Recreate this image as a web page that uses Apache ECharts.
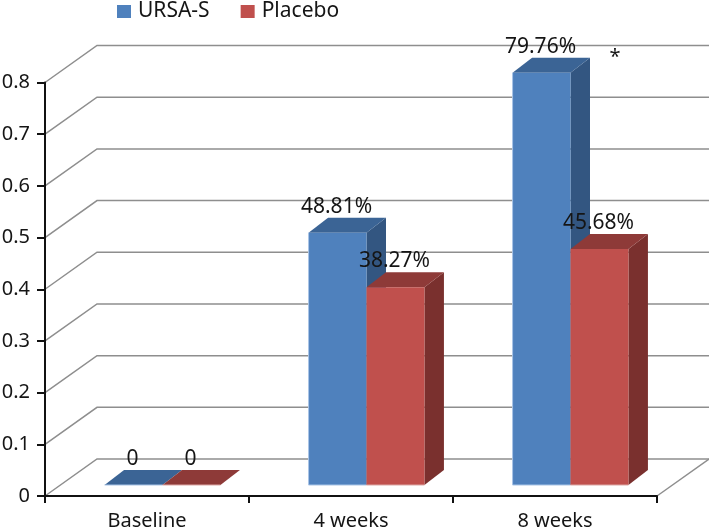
<!DOCTYPE html>
<html>
<head>
<meta charset="utf-8">
<style>html,body{margin:0;padding:0;background:#fff}#c{width:709px;height:528px}</style>
<script src="https://cdn.jsdelivr.net/npm/echarts@6/dist/echarts.min.js"></script>
</head>
<body>
<div id="c"></div>
<script>
const categories = ['Baseline', '4 weeks', '8 weeks'];
const ursaValues = [0, 0.4881, 0.7976];
const placeboValues = [0, 0.3827, 0.4568];
const ursaLabels = ['0', '48.81%', '79.76%'];
const placeboLabels = ['0', '38.27%', '45.68%'];
const yTicks = [0, 0.1, 0.2, 0.3, 0.4, 0.5, 0.6, 0.7, 0.8];
const significance = [['8 weeks', 0.7976, '*']];

const FONT = '"Noto Sans", sans-serif';
const TEXT = '#151515';
const WALL = { dx: 52, dy: -37 };
const BAR = { widthFrac: 0.284, frontDx: 15.5, frontDy: -11, depthDx: 19.5, depthDy: -15 };
const BLUE = { front: '#4F81BD', top: '#3B6495', side: '#335681', edge: '#A9C4E6' };
const RED = { front: '#C0504D', top: '#8E3A38', side: '#7A302E', edge: '#DDA8A6' };

const chart = echarts.init(document.getElementById('c'));

function wallItem(params, api) {
  const cs = params.coordSys;
  const y = api.coord([0, api.value(1)])[1];
  const x0 = cs.x, x1 = cs.x + cs.width;
  const lineStyle = { stroke: '#8E8E8E', lineWidth: 1.5, fill: null };
  const children = [{
    type: 'polyline',
    shape: { points: [[x0, y], [x0 + WALL.dx, y + WALL.dy], [x1 + WALL.dx, y + WALL.dy]] },
    style: lineStyle
  }];
  if (api.value(1) === 0) {
    children.push({
      type: 'line',
      shape: { x1: x1, y1: y, x2: x1 + WALL.dx, y2: y + WALL.dy },
      style: lineStyle
    });
  }
  return { type: 'group', children };
}

function barItem(seriesPos, pal) {
  return function (params, api) {
    const catIdx = api.value(0);
    const p = api.coord([catIdx, api.value(1)]);
    const base = api.coord([catIdx, 0]);
    const w = api.size([1, 0])[0] * BAR.widthFrac;
    const xL = base[0] + BAR.frontDx + (seriesPos === 0 ? -w : 0);
    const xR = xL + w;
    const yB = base[1] + BAR.frontDy;
    const yT = p[1] + BAR.frontDy;
    const dx = BAR.depthDx, dy = BAR.depthDy;
    const children = [
      { type: 'polygon', shape: { points: [[xR, yB], [xR + dx, yB + dy], [xR + dx, yT + dy], [xR, yT]] },
        style: { fill: pal.side } },
      { type: 'polygon', shape: { points: [[xL, yT], [xR, yT], [xR + dx, yT + dy], [xL + dx, yT + dy]] },
        style: { fill: pal.top } },
      { type: 'rect', shape: { x: xL, y: yT, width: w, height: yB - yT },
        style: { fill: pal.front } },
      { type: 'line', shape: { x1: xL, y1: yB, x2: xR, y2: yB },
        style: { stroke: pal.edge, lineWidth: 1 } }
    ];
    if (seriesPos === 0) {
      children.push({ type: 'line', shape: { x1: xL, y1: yT, x2: xL, y2: yB },
        style: { stroke: pal.edge, lineWidth: 1 } });
    }
    return { type: 'group', children };
  };
}

function labelItem(seriesPos, texts) {
  return function (params, api) {
    const catIdx = api.value(0);
    const p = api.coord([catIdx, api.value(1)]);
    const w = api.size([1, 0])[0] * BAR.widthFrac;
    const cx = p[0] + BAR.frontDx + (seriesPos === 0 ? -w / 2 : w / 2) - 1;
    return {
      type: 'text',
      style: {
        x: cx, y: p[1] + BAR.frontDy - 26,
        text: texts[params.dataIndex],
        font: '21px ' + FONT,
        fill: TEXT, align: 'center', verticalAlign: 'middle'
      }
    };
  };
}

function noteItem(params, api) {
  const p = api.coord([api.value(0), api.value(1)]);
  return {
    type: 'text',
    style: {
      x: p[0] + 60, y: p[1] - 26,
      text: significance[params.dataIndex][2],
      font: '20px ' + FONT,
      fill: TEXT, align: 'center', verticalAlign: 'middle'
    }
  };
}

chart.setOption({
  animation: false,
  backgroundColor: '#fff',
  grid: { left: 45, top: 82.5, width: 612, height: 413.5, outerBoundsMode: 'none' },
  legend: {
    data: ['URSA-S', 'Placebo'],
    left: 112, top: -4,
    icon: 'rect',
    itemWidth: 14, itemHeight: 13, itemGap: 31,
    textStyle: { fontFamily: FONT, fontSize: 21, color: TEXT, padding: [0, 0, 0, 2] }
  },
  xAxis: {
    type: 'category',
    data: categories,
    z: 2,
    axisLine: { lineStyle: { color: '#111', width: 2 } },
    axisTick: { show: true, length: 7, alignWithLabel: false, lineStyle: { color: '#111', width: 2 } },
    axisLabel: { fontFamily: FONT, fontSize: 20, color: TEXT, margin: 15 },
    splitLine: { show: false }
  },
  yAxis: {
    type: 'value', min: 0, max: 0.8, interval: 0.1,
    z: 2,
    axisLine: { show: true, lineStyle: { color: '#111', width: 2 } },
    axisTick: { show: true, length: 8, lineStyle: { color: '#111', width: 2 } },
    axisLabel: { fontFamily: FONT, fontSize: 20, color: TEXT, margin: 15, padding: [8, 0, 0, 0],
      formatter: v => String(Math.round(v * 10) / 10) },
    splitLine: { show: false }
  },
  series: [
    { type: 'custom', z: 1, silent: true, renderItem: wallItem,
      data: yTicks.map(v => [0, v]), encode: { x: 0, y: 1 } },
    { type: 'custom', name: 'URSA-S', z: 3, itemStyle: { color: BLUE.front },
      renderItem: barItem(0, BLUE), data: ursaValues.map((v, i) => [i, v]), encode: { x: 0, y: 1 } },
    { type: 'custom', name: 'Placebo', z: 4, itemStyle: { color: RED.front },
      renderItem: barItem(1, RED), data: placeboValues.map((v, i) => [i, v]), encode: { x: 0, y: 1 } },
    { type: 'custom', z: 5, silent: true, renderItem: labelItem(0, ursaLabels),
      data: ursaValues.map((v, i) => [i, v]), encode: { x: 0, y: 1 } },
    { type: 'custom', z: 5, silent: true, renderItem: labelItem(1, placeboLabels),
      data: placeboValues.map((v, i) => [i, v]), encode: { x: 0, y: 1 } },
    { type: 'custom', z: 5, silent: true, renderItem: noteItem,
      data: significance.map(s => [categories.indexOf(s[0]), s[1]]), encode: { x: 0, y: 1 } }
  ]
});
</script>
</body>
</html>
